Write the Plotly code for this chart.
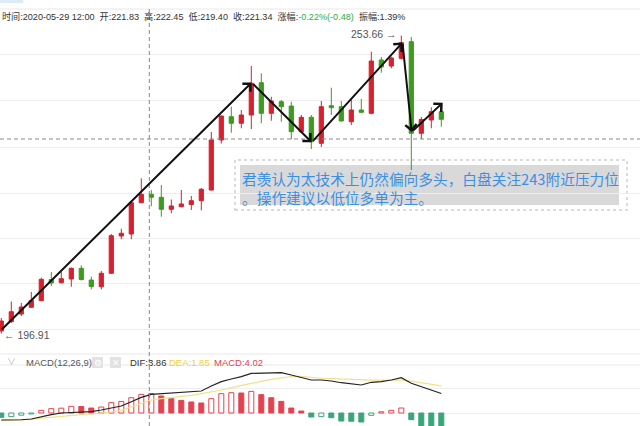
import plotly.graph_objects as go

W, H = 640, 426

# ---------------- data ----------------
opens = [197.39, 199.16, 200.62, 201.90, 203.16, 207.20, 206.59, 207.29, 209.33, 207.10,
         205.82, 208.38, 215.48, 215.86, 221.82, 223.42, 222.85, 220.57, 221.06, 221.48,
         222.21, 224.24, 233.77, 238.21, 236.95, 238.53, 244.68, 238.85, 241.06, 240.24,
         235.35, 238.09, 233.14, 240.30, 240.11, 237.25, 239.48, 238.85, 249.01, 247.86,
         249.33, 252.49, 235.04, 237.58, 239.16]
highs = [199.86, 203.01, 202.72, 204.81, 207.54, 208.62, 208.62, 209.48, 209.90, 207.73,
         208.81, 215.86, 216.87, 222.24, 226.47, 224.24, 225.20, 222.43, 224.24, 223.10,
         224.62, 235.29, 238.43, 240.11, 239.48, 247.86, 246.47, 242.01, 241.39, 241.06,
         238.53, 238.53, 241.20, 243.73, 241.20, 241.39, 241.58, 250.59, 249.58, 249.63,
         253.66, 253.39, 238.15, 240.00, 239.48]
lows = [196.91, 198.91, 200.24, 201.77, 203.10, 205.96, 206.43, 205.82, 207.01, 205.33,
        205.33, 208.24, 214.85, 214.85, 221.77, 221.14, 219.16, 219.81, 220.95, 220.43,
        220.38, 224.15, 233.10, 235.16, 236.00, 235.86, 236.95, 237.44, 237.25, 233.90,
        235.04, 232.05, 232.43, 238.53, 237.25, 236.62, 238.91, 238.66, 246.59, 247.42,
        249.10, 228.05, 233.96, 236.00, 236.30]
closes = [199.29, 201.06, 201.96, 203.20, 207.23, 206.53, 207.35, 209.33, 207.20, 205.86,
          208.38, 215.54, 216.00, 221.82, 223.42, 222.85, 220.57, 221.20, 221.58, 222.21,
          224.38, 233.77, 238.34, 236.95, 238.53, 244.57, 238.85, 241.20, 240.11, 235.35,
          238.09, 233.44, 240.11, 239.92, 237.39, 239.48, 239.04, 248.81, 247.67, 249.39,
          252.30, 235.04, 237.67, 239.16, 237.71]

macd_hist = [-0.90, -0.75, -0.45, -0.20, 0.55, 0.90, 1.00, 1.38, 1.35, 1.03,
             1.24, 2.14, 2.40, 3.17, 3.86, 4.02, 3.52, 2.97, 2.62, 2.28,
             2.07, 2.97, 4.00, 4.20, 4.14, 4.48, 3.80, 3.17, 2.41, 1.03,
             0.41, -0.83, -0.75, -0.97, -1.66, -1.70, -1.86, -0.48, 0.25, 0.55,
             1.03, -1.38, -2.76, -3.30, -3.80]
dif = [-1.45, -1.45, -1.40, -1.24, -0.76, -0.35, 0.00, 0.14, 0.21, 0.28,
       0.62, 0.97, 1.45, 2.34, 3.24, 3.86, 4.00, 4.14, 4.20, 4.28,
       4.55, 5.59, 6.49, 7.04, 7.52, 8.21, 8.28, 8.42, 8.35, 7.87,
       7.39, 6.83, 6.83, 6.63, 6.27, 6.00, 5.80, 6.36, 6.48, 6.83,
       7.31, 6.15, 5.44, 4.76, 4.04]
dea = [-1.59, -1.52, -1.45, -1.31, -1.04, -0.83, -0.62, -0.48, -0.34, -0.21,
       -0.07, 0.21, 0.55, 1.31, 2.00, 2.69, 2.97, 3.17, 3.38, 3.66,
       4.00, 4.35, 4.76, 5.24, 5.73, 6.15, 6.56, 6.97, 7.31, 7.55,
       7.60, 7.35, 7.20, 7.10, 7.00, 6.90, 6.80, 6.80, 6.82, 6.83,
       6.83, 6.60, 6.30, 5.95, 5.60]

# hand-drawn trend arrows (bar index, price)
trend_x = [-0.1, 25.04, 31.04, 40.12, 41.04, 44.14]
trend_y = [197.40, 244.72, 233.33, 252.34, 235.29, 240.87]

grid_main = [197.58, 206.34, 215.10, 223.67, 232.43, 241.20, 249.96]
grid_macd = [0, 5]
crosshair_x = 14.8
crosshair_y = 233.96

header_text = ("时间:2020-05-29 12:00\u00a0\u00a0开:221.83\u00a0\u00a0高:222.45\u00a0\u00a0低:219.40"
               "\u00a0\u00a0收:221.34\u00a0\u00a0涨幅:<span style='color:#2fae3a'>-0.22%(-0.48)</span>"
               "\u00a0\u00a0振幅:1.39%")
max_label = "253.66 \u2192"
min_label = "\u2190 196.91"
note_text = "君羡认为太技术上仍然偏向多头，白盘关注243附近压力位<br>。操作建议以低位多单为主。"
macd_title = "MACD(12,26,9)"
dif_label = "DIF:3.86"
dea_label = "DEA:1.85"
macd_label = "MACD:4.02"

# ---------------- styles ----------------
RED = "#d7212f"
GREEN = "#3d9b1d"
RED_M = "#e3434f"
GREEN_M = "#3ba57a"
GRID = "#eeeeee"
FONT = "Liberation Sans, Noto Sans CJK SC, sans-serif"


def px(xp):
    return xp / W


def py(yp):
    return 1 - yp / H


idx = list(range(len(opens)))

fig = go.Figure()

fig.add_trace(go.Candlestick(
    x=idx, open=opens, high=highs, low=lows, close=closes,
    increasing=dict(line=dict(color=RED, width=1), fillcolor=RED),
    decreasing=dict(line=dict(color=GREEN, width=1), fillcolor=GREEN),
    whiskerwidth=0, showlegend=False, hoverinfo="skip",
    xaxis="x", yaxis="y"))

fills, edges = [], []
for i, v in enumerate(macd_hist):
    c = RED_M if v >= 0 else GREEN_M
    rising = i > 0 and v > macd_hist[i - 1]
    fills.append("#ffffff" if rising else c)
    edges.append(c)

fig.add_trace(go.Bar(x=idx, y=macd_hist, width=0.5,
                     marker=dict(color=fills, line=dict(color=edges, width=1)),
                     showlegend=False, hoverinfo="skip", xaxis="x", yaxis="y2"))
fig.add_trace(go.Scatter(x=idx, y=dea, mode="lines", line=dict(color="#f3e08a", width=1.2),
                         showlegend=False, hoverinfo="skip", xaxis="x", yaxis="y2"))
fig.add_trace(go.Scatter(x=idx, y=dif, mode="lines", line=dict(color="#222222", width=1.2),
                         showlegend=False, hoverinfo="skip", xaxis="x", yaxis="y2"))

shapes = []
# pane separators
for yp in (9, 354, 365):
    shapes.append(dict(type="line", xref="paper", yref="paper", x0=0, x1=1,
                       y0=py(yp), y1=py(yp), line=dict(color="#e8e8e8", width=1), layer="below"))
# small blue tab at top left
shapes.append(dict(type="rect", xref="paper", yref="paper", x0=0, x1=px(23), y0=py(3), y1=1,
                   fillcolor="#dfeaf8", line=dict(width=0), layer="below"))
# crosshair
shapes.append(dict(type="line", xref="x", yref="paper", x0=crosshair_x, x1=crosshair_x,
                   y0=0, y1=py(9), line=dict(color="#888888", width=1, dash="4px,3px")))
shapes.append(dict(type="line", xref="paper", yref="y", x0=0, x1=1,
                   y0=crosshair_y, y1=crosshair_y, line=dict(color="#888888", width=1, dash="4px,3px")))
# note box
shapes.append(dict(type="rect", xref="paper", yref="paper", x0=px(235), x1=px(627),
                   y0=py(210), y1=py(160), fillcolor="#ffffff",
                   line=dict(color="#cfcfcf", width=1.5, dash="dot"), layer="between"))
shapes.append(dict(type="rect", xref="paper", yref="paper", x0=px(240), x1=px(619),
                   y0=py(205), y1=py(165), fillcolor="#d9d9d9", line=dict(width=0), layer="between"))
# macd header icons
for x0 in (92, 110):
    shapes.append(dict(type="rect", xref="paper", yref="paper", x0=px(x0), x1=px(x0 + 11),
                       y0=py(368), y1=py(357), fillcolor="#e2e2e2", line=dict(width=0)))

ann = []
ann.append(dict(xref="paper", yref="paper", x=0, y=py(16.5), xanchor="left", yanchor="middle",
                text=header_text, showarrow=False, font=dict(family=FONT, size=9.1, color="#333333")))
imax = highs.index(max(highs))
imin = lows.index(min(lows))
ann.append(dict(xref="x", yref="y", x=imax, y=highs[imax], xanchor="right", yanchor="middle",
                xshift=-2, yshift=2, text=max_label, showarrow=False,
                font=dict(family=FONT, size=10.5, color="#555555")))
ann.append(dict(xref="x", yref="y", x=imin, y=lows[imin], xanchor="left", yanchor="middle",
                xshift=1, yshift=-1, text=min_label, showarrow=False,
                font=dict(family=FONT, size=10.5, color="#555555")))
ann.append(dict(xref="paper", yref="paper", x=px(240), y=py(165.5), xanchor="left", yanchor="top",
                align="left", text=note_text, showarrow=False,
                font=dict(family="Noto Sans CJK SC, sans-serif", size=14.7, color="#3b8fe5")))
# macd header
ann.append(dict(xref="paper", yref="paper", x=px(11.5), y=py(362), xanchor="center", yanchor="middle",
                text="\u2228", showarrow=False, font=dict(family=FONT, size=9, color="#b5b5b5")))
for txt, xp, col in ((macd_title, 24, "#555555"), (dif_label, 128, "#333333"),
                     (dea_label, 167, "#f0cf3c"), (macd_label, 212, "#e3434f")):
    ann.append(dict(xref="paper", yref="paper", x=px(xp), y=py(362.5), xanchor="left", yanchor="middle",
                    text=txt, showarrow=False, font=dict(family=FONT, size=9.5, color=col)))
for ch, xc in (("\u2699", 97.5), ("\u2715", 115.5)):
    ann.append(dict(xref="paper", yref="paper", x=px(xc), y=py(362.5), xanchor="center", yanchor="middle",
                    text=ch, showarrow=False, font=dict(family="DejaVu Sans", size=9, color="#ffffff")))
# trend arrows
for k in range(1, len(trend_x)):
    ann.append(dict(xref="x", yref="y", axref="x", ayref="y",
                    x=trend_x[k], y=trend_y[k], ax=trend_x[k - 1], ay=trend_y[k - 1],
                    text="", showarrow=True, arrowhead=4, arrowsize=1.1, arrowwidth=2,
                    arrowcolor="#111111", standoff=0, startstandoff=0))

fig.update_layout(
    width=W, height=H, margin=dict(l=0, r=0, t=0, b=0),
    paper_bgcolor="#ffffff", plot_bgcolor="#ffffff",
    showlegend=False, hovermode=False, boxgap=0.4,
    xaxis=dict(range=[-0.13, 63.87], showgrid=False, zeroline=False, showticklabels=False,
               ticks="", rangeslider=dict(visible=False), fixedrange=True),
    yaxis=dict(domain=[py(354), py(9)], range=[193.005, 258.72], tickvals=grid_main,
               showticklabels=False, gridcolor=GRID, zeroline=False, ticks="", anchor="x"),
    yaxis2=dict(domain=[0, py(364.7)], range=[-2.69, 10.0], tickvals=grid_macd,
                showticklabels=False, gridcolor=GRID, zeroline=False, ticks="", anchor="x"),
    shapes=shapes, annotations=ann,
)

fig.write_html("out.html")
